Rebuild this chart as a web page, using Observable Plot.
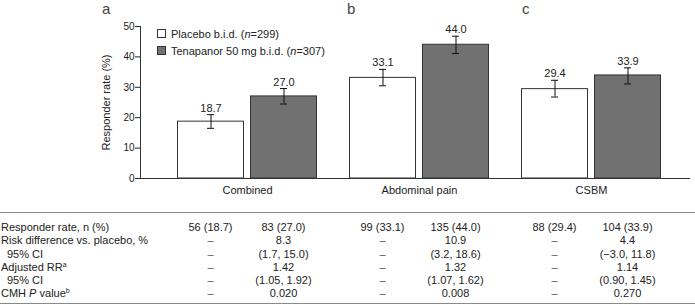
<!DOCTYPE html>
<html>
<head>
<meta charset="utf-8">
<script src="https://cdn.jsdelivr.net/npm/d3@7"></script>
<script src="https://cdn.jsdelivr.net/npm/@observablehq/plot@0.6"></script>
<style>
  body { margin: 0; background: #fff; }
  #wrap { position: relative; width: 695px; height: 305px; font-family: "Liberation Sans", Arial, sans-serif; color: #222; overflow: hidden; }
  #chart { position: absolute; left: 0; top: 0; }
  .panel { position: absolute; top: 0.5px; font-size: 15px; line-height: 15px; color: #444; }
  .legend { position: absolute; left: 157px; top: 25px; font-size: 11px; }
  .legend .item { display: flex; align-items: center; height: 17px; }
  .legend .sw { width: 9px; height: 9px; border: 1px solid #333; margin-right: 5px; box-sizing: border-box; }
  .rule { position: absolute; left: 0; width: 695px; height: 0; border-top: 1.5px solid #8a8a8a; }
  .cell { position: absolute; font-size: 11px; line-height: 13.2px; white-space: nowrap; }
  .cell.dash { color: #555; }
  .cell sup { font-size: 7px; vertical-align: 4px; line-height: 0; }
</style>
</head>
<body>
<div id="wrap"></div>
<script>
// ---- data ----
const groups = ["Combined", "Abdominal pain", "CSBM"];
const series = ["Placebo b.i.d.", "Tenapanor 50 mg b.i.d."];
const seriesN = [299, 307];
const placebo = [18.7, 33.1, 29.4];
const tenapanor = [27.0, 44.0, 33.9];
const placeboLo = [16.5, 30.5, 26.8];
const placeboHi = [21.0, 35.9, 32.3];
const tenapanorLo = [24.5, 41.1, 31.1];
const tenapanorHi = [29.6, 46.8, 36.4];
const panelLetters = ["a", "b", "c"];
const yTicks = [0, 10, 20, 30, 40, 50];

const rowLabels = ["Responder rate, n (%)", "Risk difference vs. placebo, %", "95% CI", "Adjusted RR<sup>a</sup>", "95% CI", "CMH <i>P</i> value<sup>b</sup>"];
const rowIndent = [false, false, true, false, true, false];
const placeboTable = [
  ["56 (18.7)", "–", "–", "–", "–", "–"],
  ["99 (33.1)", "–", "–", "–", "–", "–"],
  ["88 (29.4)", "–", "–", "–", "–", "–"]
];
const tenapanorTable = [
  ["83 (27.0)", "8.3", "(1.7, 15.0)", "1.42", "(1.05, 1.92)", "0.020"],
  ["135 (44.0)", "10.9", "(3.2, 18.6)", "1.32", "(1.07, 1.62)", "0.008"],
  ["104 (33.9)", "4.4", "(−3.0, 11.8)", "1.14", "(0.90, 1.45)", "0.270"]
];

const colors = ["#ffffff", "#717171"];

// ---- build records ----
const rows = [];
groups.forEach((g, i) => {
  rows.push({group: g, s: 0, v: placebo[i], lo: placeboLo[i], hi: placeboHi[i]});
  rows.push({group: g, s: 1, v: tenapanor[i], lo: tenapanorLo[i], hi: tenapanorHi[i]});
});
const P = rows.filter(d => d.s === 0);
const T = rows.filter(d => d.s === 1);

const bw = 172, barW = 66, gap = 7;
const off = barW / 2 + gap / 2; // 36.5
const half = bw / 2;
const capW = 7;
const fmt = d3.format(".1f");

const chart = Plot.plot({
  width: 695,
  height: 200,
  marginLeft: 140,
  marginRight: 5,
  marginTop: 26,
  marginBottom: 22,
  style: {fontFamily: '"Liberation Sans", Arial, sans-serif', fontSize: "10px", color: "#222", background: "transparent", overflow: "visible"},
  x: {type: "band", domain: groups, range: [160.5, 160.5 + 3 * bw], padding: 0},
  y: {domain: [0, 50]},
  marks: [
    // bars
    Plot.barY(P, {x: "group", y: "v", fill: colors[0], stroke: "#333", strokeWidth: 1,
      insetLeft: half - off - barW / 2, insetRight: half + off - barW / 2}),
    Plot.barY(T, {x: "group", y: "v", fill: colors[1], stroke: "#333", strokeWidth: 1,
      insetLeft: half + off - barW / 2, insetRight: half - off - barW / 2}),
    // error bars
    Plot.ruleX(P, {x: "group", y1: "lo", y2: "hi", dx: -off, stroke: "#111", strokeWidth: 1}),
    Plot.ruleX(T, {x: "group", y1: "lo", y2: "hi", dx: off, stroke: "#111", strokeWidth: 1}),
    ...["lo", "hi"].flatMap(k => [
      Plot.tickY(P, {x: "group", y: k, stroke: "#111", strokeWidth: 1,
        insetLeft: half - off - capW / 2, insetRight: half + off - capW / 2}),
      Plot.tickY(T, {x: "group", y: k, stroke: "#111", strokeWidth: 1,
        insetLeft: half + off - capW / 2, insetRight: half - off - capW / 2})
    ]),
    // value labels
    Plot.text(P, {x: "group", y: "hi", text: d => fmt(d.v), dx: -off, dy: -3, lineAnchor: "bottom", fontSize: 11, fill: "#222"}),
    Plot.text(T, {x: "group", y: "hi", text: d => fmt(d.v), dx: off, dy: -3, lineAnchor: "bottom", fontSize: 11, fill: "#222"}),
    // axes
    Plot.axisY({ticks: yTicks, tickSize: 5, tickPadding: 1, fontSize: 10, label: "Responder rate (%)", labelAnchor: "center", labelArrow: "none", labelOffset: 38}),
    Plot.axisX({tickSize: 0, tickPadding: 8, fontSize: 11, label: null}),
    Plot.frame({anchor: "left", stroke: "#333"}),
    Plot.ruleY([0], {stroke: "#333"})
  ]
});
chart.id = "chart";
const wrap = document.getElementById("wrap");
wrap.appendChild(chart);
chart.querySelectorAll('[aria-label="y-axis label"] text').forEach(t => t.setAttribute("font-size", "11"));

const xs = chart.scale("x");
const center = g => xs.apply(g) + xs.bandwidth / 2;

// panel letters
const letterX = [102, 347, 522];
panelLetters.forEach((l, i) => {
  const d = document.createElement("div");
  d.className = "panel"; d.textContent = l; d.style.left = letterX[i] + "px";
  wrap.appendChild(d);
});

// legend
const leg = document.createElement("div");
leg.className = "legend";
series.forEach((s, i) => {
  const it = document.createElement("div"); it.className = "item";
  const sw = document.createElement("div"); sw.className = "sw"; sw.style.background = colors[i];
  const tx = document.createElement("span");
  tx.innerHTML = `${s} (<i>n</i>=${seriesN[i]})`;
  it.appendChild(sw); it.appendChild(tx); leg.appendChild(it);
});
wrap.appendChild(leg);

// table
const topRule = document.createElement("div"); topRule.className = "rule"; topRule.style.top = "212px"; wrap.appendChild(topRule);
const botRule = document.createElement("div"); botRule.className = "rule"; botRule.style.top = "302.5px"; wrap.appendChild(botRule);
const rowTop = 221;
const rowH = 13.25;
rowLabels.forEach((lab, r) => {
  const c = document.createElement("div"); c.className = "cell";
  c.innerHTML = lab;
  c.style.left = (rowIndent[r] ? 7 : 1) + "px";
  c.style.top = (rowTop + r * rowH) + "px";
  wrap.appendChild(c);
  groups.forEach((g, gi) => {
    [[placeboTable, -off], [tenapanorTable, off]].forEach(([tbl, o]) => {
      const v = document.createElement("div");
      const txt = tbl[gi][r];
      v.className = "cell" + (txt === "–" ? " dash" : "");
      v.textContent = txt;
      v.style.left = (center(g) + o) + "px";
      v.style.transform = "translateX(-50%)";
      v.style.top = (rowTop + r * rowH) + "px";
      wrap.appendChild(v);
    });
  });
});
</script>
</body>
</html>
